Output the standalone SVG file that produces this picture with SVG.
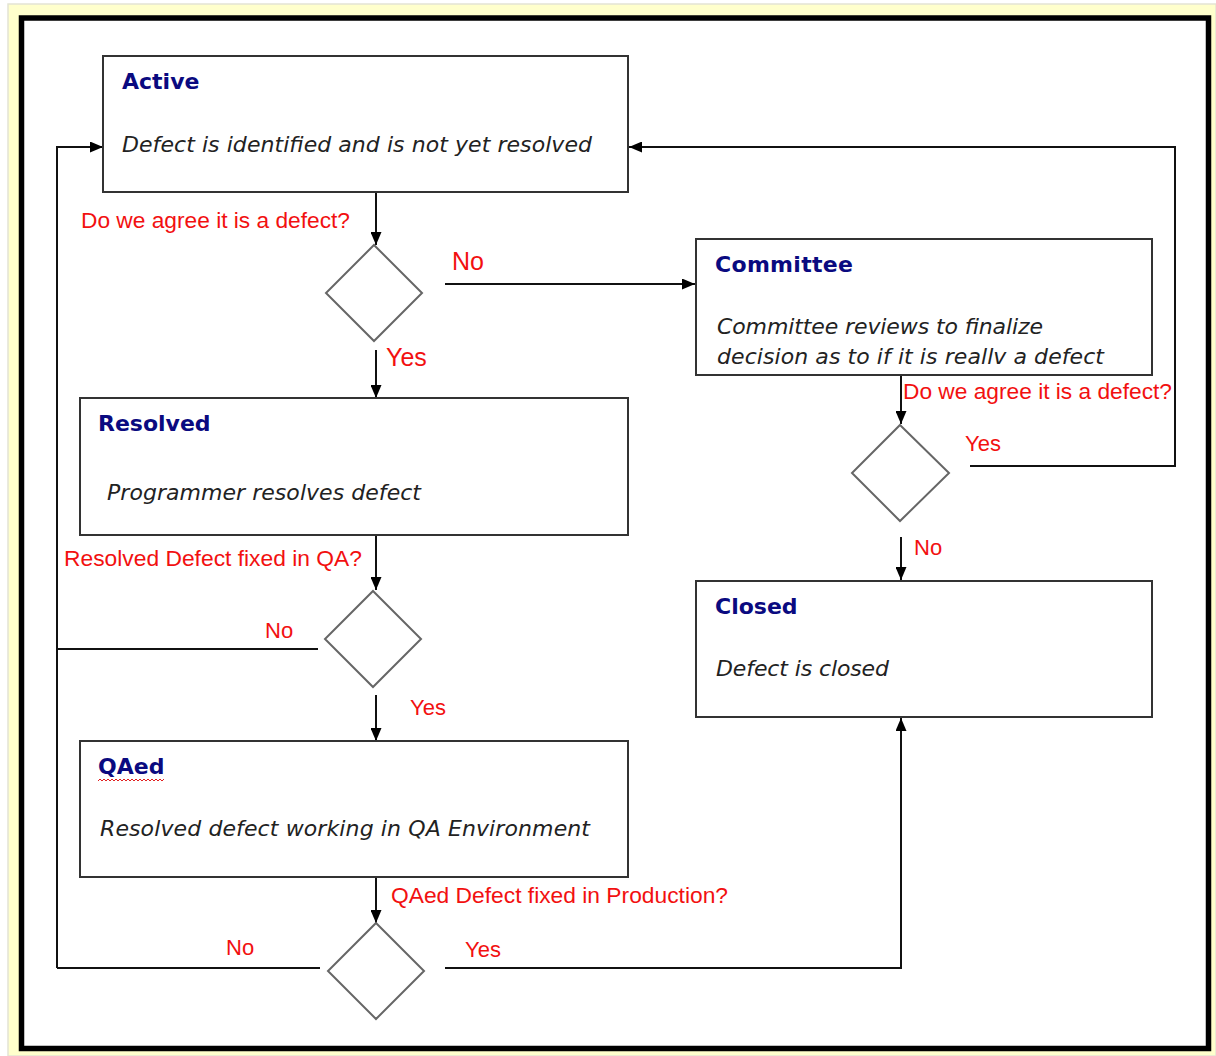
<svg xmlns="http://www.w3.org/2000/svg" width="1216" height="1056" viewBox="0 0 1216 1056">
<defs>
<marker id="arr" viewBox="0 0 13 11" refX="13" refY="5.5" markerWidth="13" markerHeight="11" markerUnits="userSpaceOnUse" orient="auto">
<path d="M0,0 L13,5.5 L0,11 z" fill="#000"/>
</marker>
<style>
.box{fill:#fff;stroke:#333;stroke-width:2}
.dia{fill:#fff;stroke:#666;stroke-width:2}
.title{font-family:"DejaVu Sans",Verdana,sans-serif;font-weight:bold;font-size:22px;fill:#0a0a80}
.desc{font-family:"DejaVu Sans",Verdana,sans-serif;font-style:italic;font-size:22px;fill:#222}
.lbl{font-family:"Liberation Sans",Arial,sans-serif;font-size:22px;fill:#f21010}
.big{font-size:25px}
.con{fill:none;stroke:#111;stroke-width:2}
</style>
</defs>
<rect x="8" y="4" width="1208" height="1052" fill="#ffffcc" stroke="#e4e4d4" stroke-width="1.5"/>
<rect x="21.5" y="18" width="1187" height="1030.5" fill="#fff" stroke="#000" stroke-width="5.5"/>

<g id="connectors">
<path class="con" d="M376,192 L376,245" marker-end="url(#arr)"/>
<path class="con" d="M445,284 L695,284" marker-end="url(#arr)"/>
<path class="con" d="M376,350 L376,398" marker-end="url(#arr)"/>
<path class="con" d="M901,375 L901,424" marker-end="url(#arr)"/>
<path class="con" d="M970,466 L1175,466 L1175,147 L629,147" marker-end="url(#arr)"/>
<path class="con" d="M901,537 L901,580" marker-end="url(#arr)"/>
<path class="con" d="M376,535 L376,590" marker-end="url(#arr)"/>
<path class="con" d="M318,649 L57,649"/>
<path class="con" d="M57,968 L57,147 L103,147" marker-end="url(#arr)"/>
<path class="con" d="M376,695 L376,741" marker-end="url(#arr)"/>
<path class="con" d="M376,877 L376,923" marker-end="url(#arr)"/>
<path class="con" d="M320,968 L57,968"/>
<path class="con" d="M445,968 L901,968 L901,718" marker-end="url(#arr)"/>
</g>

<g id="active">
<rect class="box" x="103" y="56" width="525" height="136"/>
<text class="title" x="122" y="89">Active</text>
<text class="desc" x="122" y="152" textLength="470">Defect is identified and is not yet resolved</text>
</g>

<g id="committee">
<rect class="box" x="696" y="239" width="456" height="136"/>
<text class="title" x="715" y="272" textLength="138">Committee</text>
<text class="desc" x="717" y="334" textLength="326">Committee reviews to finalize</text>
<text class="desc" x="717" y="364" textLength="387">decision as to if it is reallv a defect</text>
</g>

<g id="resolved">
<rect class="box" x="80" y="398" width="548" height="137"/>
<text class="title" x="98" y="431">Resolved</text>
<text class="desc" x="107" y="500" textLength="314">Programmer resolves defect</text>
</g>

<g id="closed">
<rect class="box" x="696" y="581" width="456" height="136"/>
<text class="title" x="715" y="614">Closed</text>
<text class="desc" x="716" y="676" textLength="173">Defect is closed</text>
</g>

<g id="qaed">
<rect class="box" x="80" y="741" width="548" height="136"/>
<text class="title" x="98" y="774">QAed</text>
<path d="M98,781 l2,-2 l2,2 l2,-2 l2,2 l2,-2 l2,2 l2,-2 l2,2 l2,-2 l2,2 l2,-2 l2,2 l2,-2 l2,2 l2,-2 l2,2 l2,-2 l2,2 l2,-2 l2,2 l2,-2 l2,2 l2,-2 l2,2 l2,-2 l2,2 l2,-2 l2,2 l2,-2 l2,2 l2,-2 l2,2 l2,-2" fill="none" stroke="#e02020" stroke-width="1"/>
<text class="desc" x="100" y="836" textLength="490">Resolved defect working in QA Environment</text>
</g>

<g id="decision1">
<polygon class="dia" points="374,245 422,293 374,341 326,293"/>
<text class="lbl" x="81" y="228" textLength="269" lengthAdjust="spacingAndGlyphs">Do we agree it is a defect?</text>
<text class="lbl big" x="452" y="270">No</text>
<text class="lbl big" x="386" y="366">Yes</text>
</g>

<g id="decision2">
<polygon class="dia" points="900,425 949,473 900,521 852,473"/>
<text class="lbl" x="903" y="399" textLength="269" lengthAdjust="spacingAndGlyphs">Do we agree it is a defect?</text>
<text class="lbl" x="965" y="451">Yes</text>
<text class="lbl" x="914" y="555">No</text>
</g>

<g id="decision3">
<polygon class="dia" points="373,591 421,639 373,687 325,639"/>
<text class="lbl" x="64" y="566" textLength="298" lengthAdjust="spacingAndGlyphs">Resolved Defect fixed in QA?</text>
<text class="lbl" x="265" y="638">No</text>
<text class="lbl" x="410" y="715">Yes</text>
</g>

<g id="decision4">
<polygon class="dia" points="376,923 424,971 376,1019 328,971"/>
<text class="lbl" x="391" y="903" textLength="337" lengthAdjust="spacingAndGlyphs">QAed Defect fixed in Production?</text>
<text class="lbl" x="226" y="955">No</text>
<text class="lbl" x="465" y="957">Yes</text>
</g>
</svg>
